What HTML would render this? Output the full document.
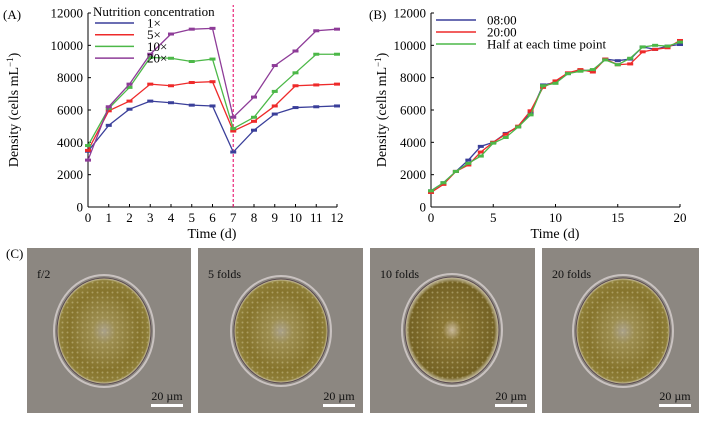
<!DOCTYPE html>
<html><head><meta charset="utf-8">
<style>
body{margin:0;background:#fff;width:708px;height:420px;overflow:hidden;font-family:"Liberation Serif",serif;}
svg text{font-family:"Liberation Serif",serif;}
</style></head>
<body>
<svg id="fig" width="708" height="420" viewBox="0 0 708 420" xmlns="http://www.w3.org/2000/svg">
<defs>
<radialGradient id="cellg" cx="50%" cy="50%" r="50%">
<stop offset="0" stop-color="#a9a08a"/><stop offset="0.25" stop-color="#9c8d50"/><stop offset="0.75" stop-color="#86742c"/><stop offset="0.95" stop-color="#8e7e38"/><stop offset="1" stop-color="#d8d2b8"/>
</radialGradient>
<radialGradient id="cellg2" cx="50%" cy="50%" r="50%">
<stop offset="0" stop-color="#c7b79a"/><stop offset="0.2" stop-color="#8a7634"/><stop offset="0.9" stop-color="#746224"/><stop offset="1" stop-color="#d0c9b0"/>
</radialGradient>
<pattern id="dots" width="5" height="5" patternUnits="userSpaceOnUse">
<circle cx="2.5" cy="2.5" r="1" fill="#d8cfa0" opacity="0.45"/>
</pattern>
</defs>
<g id="pa"></g>
<g id="pb"></g>
<g id="pc"></g>
</svg>
<script>
// Panel A data
const aDays = [0,1,2,3,4,5,6,7,8,9,10,11,12];
const aNames = ["1×","5×","10×","20×"];
const aColors = ["#3a3f9a","#ee2a2a","#4cb848","#8e3c98"];
const a1x = [3450,5050,6050,6550,6450,6300,6250,3400,4750,5750,6150,6200,6250];
const a5x = [3500,5950,6550,7600,7500,7700,7750,4700,5300,6250,7500,7550,7600];
const a10x = [3800,6100,7400,9250,9200,9000,9150,4850,5550,7150,8300,9450,9450];
const a20x = [2900,6200,7600,9450,10700,11000,11050,5550,6800,8750,9650,10900,11000];
const aYTicks = [0,2000,4000,6000,8000,10000,12000];
const aXTicks = [0,1,2,3,4,5,6,7,8,9,10,11,12];
// Panel B data
const bDays = [0,1,2,3,4,5,6,7,8,9,10,11,12,13,14,15,16,17,18,19,20];
const bNames = ["08:00","20:00","Half at each time point"];
const bColors = ["#3a3f9a","#ee2a2a","#4cb848"];
const b08 = [1000,1500,2200,2900,3750,4000,4550,4950,5800,7550,7700,8250,8450,8450,9150,9050,9150,9900,9750,9950,10050];
const b20 = [900,1400,2200,2600,3400,4000,4500,5000,5950,7400,7800,8300,8500,8350,9150,8800,8850,9600,9750,9850,10300];
const bHalf = [1000,1500,2200,2700,3150,3950,4300,4950,5700,7500,7650,8250,8400,8500,9100,8800,9200,9900,10000,9950,10200];
const bXTicks = [0,5,10,15,20];
const cLabels = ["f/2","5 folds","10 folds","20 folds"];

const NS="http://www.w3.org/2000/svg";
function mk(parent,tag,attrs,text){const e=document.createElementNS(NS,tag);for(const k in attrs)e.setAttribute(k,attrs[k]);if(text!==undefined)e.textContent=text;parent.appendChild(e);return e;}

function axes(g,x0,x1,y0,y1,xmax,xticks,ymax,yticks,label,xlabelX,ytitleX,labelX){
  const sx=v=>x0+(v/xmax)*(x1-x0), sy=v=>y0-(v/ymax)*(y0-y1);
  let e=mk(g,"line",{x1:x0,y1:y0,x2:x1,y2:y0,stroke:"#000","stroke-width":1});
  
  
  e=mk(g,"line",{x1:x0,y1:y0,x2:x0,y2:y1,stroke:"#000","stroke-width":1});
  
  
  yticks.forEach(v=>{mk(g,"line",{x1:x0,y1:sy(v),x2:x0+3,y2:sy(v),stroke:"#000"});
    const t=mk(g,"text",{x:x0-5,y:sy(v)+4.5,"text-anchor":"end","font-size":13},v);
    
    });
  xticks.forEach(v=>{mk(g,"line",{x1:sx(v),y1:y0,x2:sx(v),y2:y0-3,stroke:"#000"});
    const t=mk(g,"text",{x:sx(v),y:y0+15,"text-anchor":"middle","font-size":13},v);
    
    });
  let t=mk(g,"text",{x:xlabelX,y:238,"text-anchor":"middle","font-size":14},"Time (d)");
  
  
  t=mk(g,"text",{x:0,y:0,"text-anchor":"middle","font-size":14,transform:`translate(${ytitleX},${(y0+y1)/2}) rotate(-90)`});
  t.innerHTML='Density (cells mL<tspan dy="-5" font-size="9">−1</tspan><tspan dy="5">)</tspan>';
  
  
  t=mk(g,"text",{x:labelX,y:19,"font-size":13},label);
  
  
  return [sx,sy];
}
function series(g,xs,ys,color,sx,sy,name){
  const pl=mk(g,"polyline",{points:xs.map((x,i)=>sx(x)+","+sy(ys[i])).join(" "),fill:"none",stroke:color,"stroke-width":1.3});
  
  
  xs.forEach((x,i)=>{const m=mk(g,"rect",{x:sx(x)-3,y:sy(ys[i])-1.5,width:6,height:3,fill:color});
    
    });
}
// Panel A
const ga=document.getElementById("pa");
const [ax,ay]=axes(ga,88,337,207,13,12,aXTicks,12000,aYTicks,"(A)",212,18,3);
let dl=mk(ga,"line",{x1:ax(7),y1:207,x2:ax(7),y2:5,stroke:"#e8257a","stroke-width":1.2,"stroke-dasharray":"3,2"});


[a1x,a5x,a10x,a20x].forEach((s,i)=>series(ga,aDays,s,aColors[i],ax,ay,"series-"+aNames[i].replace("×","x")));
let lt=mk(ga,"text",{x:93,y:16,"font-size":13},"Nutrition concentration");


aNames.forEach((n,i)=>{const y=23+i*11.7;
  const l=mk(ga,"line",{x1:95,y1:y,x2:134,y2:y,stroke:aColors[i],"stroke-width":1.5});
  
  
  const t=mk(ga,"text",{x:147,y:y+4.5,"font-size":13},n);
  
  });
// Panel B
const gb=document.getElementById("pb");
const [bx,by]=axes(gb,431,680,207,13,20,bXTicks,12000,aYTicks,"(B)",555,386,369);
[b08,b20,bHalf].forEach((s,i)=>series(gb,bDays,s,bColors[i],bx,by,"series-"+i));
bNames.forEach((n,i)=>{const y=20+i*12;
  const l=mk(gb,"line",{x1:436,y1:y,x2:476,y2:y,stroke:bColors[i],"stroke-width":1.5});
  
  
  const t=mk(gb,"text",{x:487,y:y+4.5,"font-size":13},n);
  
  });
// Panel C
const gc=document.getElementById("pc");
let cl=mk(gc,"text",{x:6,y:258,"font-size":13},"(C)");


const px=[27,198,370,542], pw=[164,165,165,157];
const cells=[[104,331,47,53],[281,331,47,52],[452,330,47,53],[623,331,47,53]];
cLabels.forEach((lab,i)=>{
  const r=mk(gc,"rect",{x:px[i],y:248,width:pw[i],height:165,fill:"#8c8781"});
  
  
  const c=cells[i];
  mk(gc,"ellipse",{cx:c[0],cy:c[1],rx:c[2]+3,ry:c[3]+3,fill:"none",stroke:"#c9c2c0","stroke-width":2});
  const e=mk(gc,"ellipse",{cx:c[0],cy:c[1],rx:c[2],ry:c[3],fill:i==2?"url(#cellg2)":"url(#cellg)",stroke:"#5a4a50","stroke-width":1});
  
  
  mk(gc,"ellipse",{cx:c[0],cy:c[1],rx:c[2]-2,ry:c[3]-2,fill:"url(#dots)"});
  const t=mk(gc,"text",{x:px[i]+10,y:278,"font-size":12,fill:"#111"},lab);
  
  
  const sbx=px[i]+pw[i]-40;
  const s=mk(gc,"rect",{x:sbx,y:404,width:32,height:3,fill:"#fff"});
  
  
  const st=mk(gc,"text",{x:sbx+16,y:400,"font-size":12,"text-anchor":"middle",fill:"#111"},"20 µm");
  
  
});
</script>
</body></html>
